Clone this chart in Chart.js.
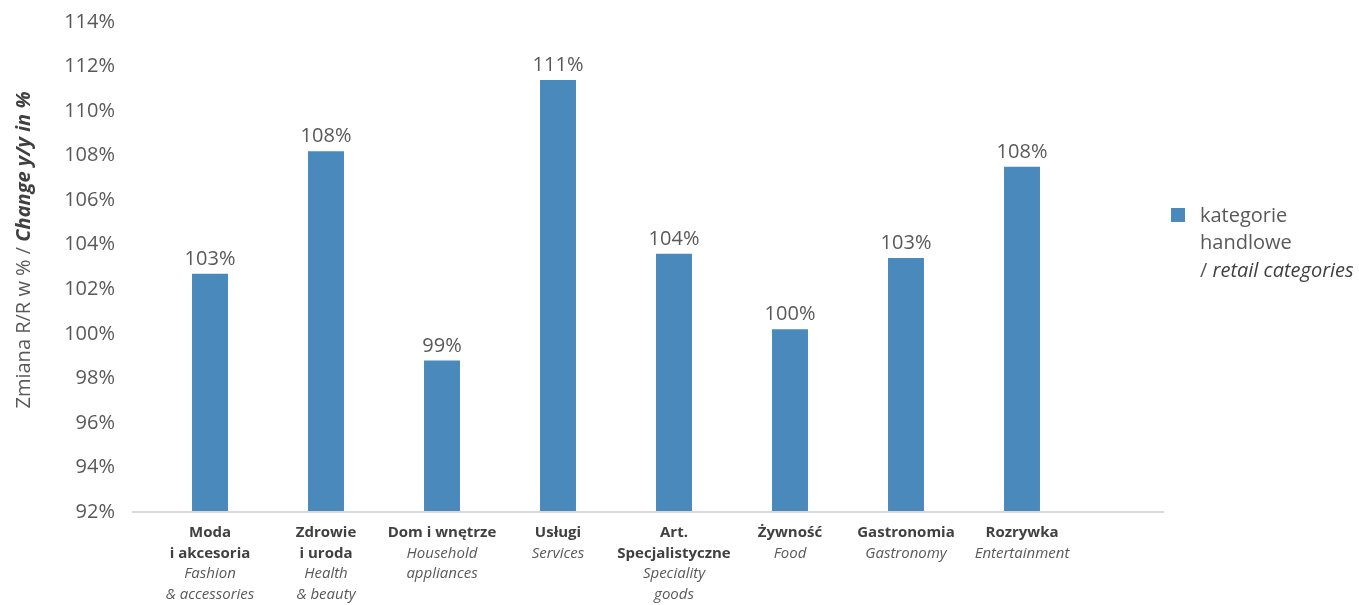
<!DOCTYPE html>
<html>
<head>
<meta charset="utf-8">
<script src="https://cdn.jsdelivr.net/npm/chart.js@4/dist/chart.umd.min.js"></script>
<style>
  body { margin: 0; background: #fff; }
  #wrap { width: 1359px; height: 605px; }
</style>
</head>
<body>
<div id="wrap"><canvas id="myChart" width="1359" height="605"></canvas></div>
<script>
// categories: [bold Polish lines, italic English lines]
const categoriesPl = [["Moda", "i akcesoria"], ["Zdrowie", "i uroda"], ["Dom i wnętrze"], ["Usługi"],
  ["Art.", "Specjalistyczne"], ["Żywność"], ["Gastronomia"], ["Rozrywka"]];
const categoriesEn = [["Fashion", "& accessories"], ["Health", "& beauty"], ["Household", "appliances"], ["Services"],
  ["Speciality", "goods"], ["Food"], ["Gastronomy"], ["Entertainment"]];
const values = [102.7, 108.2, 98.8, 111.4, 103.6, 100.2, 103.4, 107.5];
const yMin = 92, yMax = 114, yStep = 2;
const seriesName = ["kategorie", "handlowe", "/ retail categories"];

const FONT = "'Open Sans', sans-serif";
const BLUE = '#4a89bb';

// x labels, y title, legend, value labels
const extras = {
  id: 'extras',
  afterDraw(chart) {
    const ctx = chart.ctx;
    const xs = chart.scales.x;
    const area = chart.chartArea;
    ctx.save();

    // axis line (runs a bit beyond the categories, as in the original)
    ctx.strokeStyle = '#d9d9d9';
    ctx.lineWidth = 2;
    ctx.beginPath();
    ctx.moveTo(132, area.bottom);
    ctx.lineTo(1164, area.bottom);
    ctx.stroke();

    // category labels
    ctx.textAlign = 'center';
    ctx.textBaseline = 'middle';
    categoriesPl.forEach((pl, i) => {
      const x = xs.getPixelForValue(i);
      let y = area.bottom + 21;
      ctx.font = 'bold 15px ' + FONT;
      ctx.fillStyle = '#404040';
      pl.forEach(t => { ctx.fillText(t, x, y); y += 20.5; });
      ctx.font = 'italic 15px ' + FONT;
      ctx.fillStyle = '#595959';
      categoriesEn[i].forEach(t => { ctx.fillText(t, x, y); y += 20.5; });
    });

    // value labels
    ctx.font = '20px ' + FONT;
    ctx.fillStyle = '#595959';
    ctx.textBaseline = 'alphabetic';
    chart.getDatasetMeta(0).data.forEach((bar, i) => {
      ctx.fillText(Math.round(values[i]) + '%', bar.x, bar.y - 9);
    });

    // y axis title
    ctx.translate(24, 250);
    ctx.rotate(-Math.PI / 2);
    const p1 = 'Zmiana R/R w % / ';
    const p2 = 'Change y/y in %';
    ctx.font = '20px ' + FONT;
    const w1 = ctx.measureText(p1).width;
    ctx.font = 'italic bold 20px ' + FONT;
    const w2 = ctx.measureText(p2).width;
    let sx = -(w1 + w2) / 2;
    ctx.textAlign = 'left';
    ctx.textBaseline = 'middle';
    ctx.font = '20px ' + FONT;
    ctx.fillStyle = '#595959';
    ctx.fillText(p1, sx, 0);
    ctx.font = 'italic bold 20px ' + FONT;
    ctx.fillStyle = '#404040';
    ctx.fillText(p2, sx + w1, 0);
    ctx.setTransform(1, 0, 0, 1, 0, 0);

    // legend
    ctx.fillStyle = BLUE;
    ctx.fillRect(1171, 208, 14, 14);
    ctx.textAlign = 'left';
    ctx.font = '20px ' + FONT;
    ctx.fillStyle = '#595959';
    ctx.fillText(seriesName[0], 1200, 216);
    ctx.fillText(seriesName[1], 1200, 243);
    ctx.fillText('/ ', 1200, 271);
    const ws = ctx.measureText('/ ').width;
    ctx.font = 'italic 20px ' + FONT;
    ctx.fillStyle = '#404040';
    ctx.fillText(seriesName[2].slice(2), 1200 + ws, 271);
    ctx.restore();
  }
};

const ctx = document.getElementById('myChart').getContext('2d');
const chart = new Chart(ctx, {
  type: 'bar',
  data: {
    labels: categoriesPl.map(c => c.join(' ')),
    datasets: [{
      label: seriesName.join(' '),
      data: values,
      backgroundColor: BLUE,
      categoryPercentage: 1,
      barPercentage: 0.31
    }]
  },
  options: {
    responsive: false,
    animation: false,
    layout: { padding: { left: 0, right: 279, top: 22, bottom: 0 } },
    plugins: { legend: { display: false }, tooltip: { enabled: false } },
    scales: {
      x: {
        grid: { display: false, drawTicks: false },
        border: { display: false },
        ticks: { display: false },
        afterFit: (s) => { s.height = 93; }
      },
      y: {
        min: yMin,
        max: yMax,
        grid: { display: false, drawTicks: false },
        border: { display: false },
        ticks: {
          stepSize: yStep,
          padding: 37,
          color: '#595959',
          font: { family: FONT, size: 20 },
          callback: v => v + '%'
        },
        afterFit: (s) => { s.width = 152; s.paddingTop = 0; s.paddingBottom = 0; }
      }
    }
  },
  plugins: [extras]
});
</script>
</body>
</html>
